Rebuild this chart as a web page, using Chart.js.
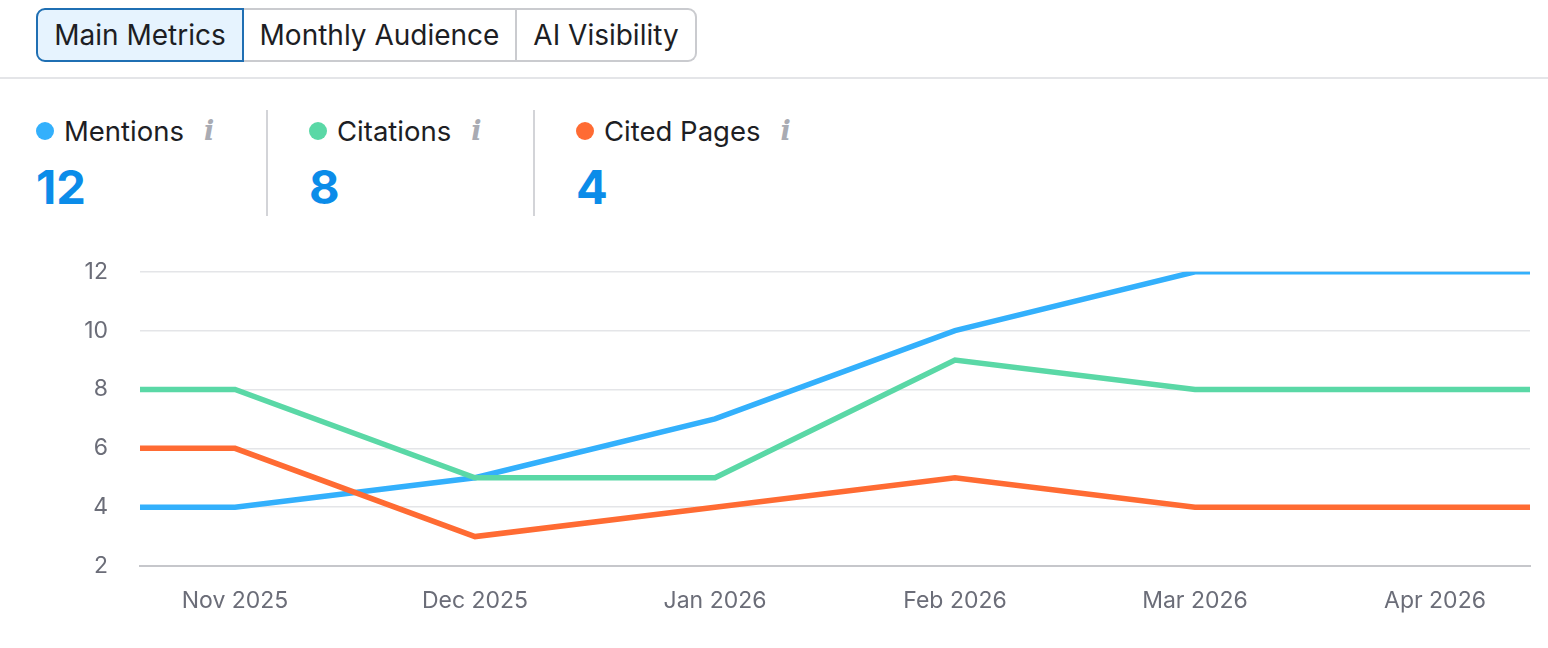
<!DOCTYPE html>
<html>
<head>
<meta charset="utf-8">
<script src="https://cdn.jsdelivr.net/npm/chart.js@4"></script>
<style>
  html, body { margin: 0; padding: 0; background: #fff; }
  body { width: 1548px; height: 648px; position: relative; overflow: hidden; font-family: Inter, "Noto Sans", sans-serif; color: #1d1e24; }
  .tabs { position: absolute; left: 36px; top: 8px; height: 54px; display: flex; }
  .tab { box-sizing: border-box; height: 54px; display: flex; align-items: center; justify-content: center; font-size: 28px; border: 2px solid #cacbcf; border-left-width: 0; background: #fff; }
  .tab.first { border-left-width: 2px; border-radius: 9px 0 0 9px; background: #e6f3fe; border-color: #1f6fb3; width: 208px; }
  .tab.mid { width: 273px; }
  .tab.last { width: 180px; border-radius: 0 9px 9px 0; }
  .sep { position: absolute; left: 0; top: 77px; width: 1548px; height: 2px; background: #e4e5e8; }
  .metric { position: absolute; top: 110px; }
  .metric .lbl { position: absolute; top: 0; white-space: nowrap; font-size: 27.5px; line-height: 42px; display: flex; align-items: center; }
  .dot { display: inline-block; width: 18px; height: 18px; border-radius: 50%; margin-right: 10px; }
  .info { font-family: "DejaVu Serif", serif; font-style: italic; color: #a9abb3; font-size: 27px; margin-left: 20px; font-weight: bold; }
  .num { position: absolute; top: 47px; font-size: 47px; font-weight: 700; color: #0b8ce9; line-height: 60px; }
  .vdiv { position: absolute; top: 110px; width: 2px; height: 106px; background: #d3d4d8; }
  #wrap { position: absolute; left: 0; top: 226px; width: 1548px; height: 414px; }
</style>
</head>
<body>
<div class="tabs">
  <div class="tab first">Main Metrics</div>
  <div class="tab mid">Monthly Audience</div>
  <div class="tab last">AI Visibility</div>
</div>
<div class="sep"></div>

<div class="metric" style="left:36px"><div class="lbl"><span class="dot" style="background:#33b0fc"></span>Mentions<span class="info">i</span></div><div class="num">12</div></div>
<div class="vdiv" style="left:266px"></div>
<div class="metric" style="left:309px"><div class="lbl"><span class="dot" style="background:#5ad8a6"></span>Citations<span class="info">i</span></div><div class="num">8</div></div>
<div class="vdiv" style="left:533px"></div>
<div class="metric" style="left:576px"><div class="lbl"><span class="dot" style="background:#ff6b33"></span>Cited Pages<span class="info">i</span></div><div class="num">4</div></div>

<div id="wrap"><canvas id="chart"></canvas></div>

<script>
  // 月份標籤
  const months = ['Nov 2025', 'Dec 2025', 'Jan 2026', 'Feb 2026', 'Mar 2026', 'Apr 2026'];
  // 三條線的數值
  const mentions = [4, 5, 7, 10, 12, 12];
  const citations = [8, 5, 5, 9, 8, 8];
  const citedPages = [6, 3, 4, 5, 4, 4];
  const yTicks = [2, 4, 6, 8, 10, 12];

  const X_MIN = -0.396, X_MAX = 5.396; // 線延伸到圖表兩側邊緣

  // 把數值轉成 {x, y}，頭尾各補一點讓線拉到邊
  function toPoints(values) {
    const pts = values.map((v, i) => ({ x: i, y: v }));
    pts.unshift({ x: X_MIN, y: values[0] });
    pts.push({ x: X_MAX, y: values[values.length - 1] });
    return pts;
  }

  function line(label, values, color, order) {
    return {
      label: label,
      data: toPoints(values),
      borderColor: color,
      backgroundColor: color,
      borderWidth: 5.5,
      pointRadius: 0,
      tension: 0,
      order: order
    };
  }

  const tickFont = { family: 'Inter', size: 23 };

  new Chart(document.getElementById('chart'), {
    type: 'line',
    data: {
      datasets: [
        line('Mentions', mentions, '#33b0fc', 3),
        line('Citations', citations, '#5ad8a6', 2),
        line('Cited Pages', citedPages, '#ff6b33', 1)
      ]
    },
    options: {
      responsive: true,
      maintainAspectRatio: false,
      animation: false,
      layout: { padding: { top: 0, right: 18, left: 0, bottom: 0 } },
      plugins: { legend: { display: false }, tooltip: { enabled: false } },
      scales: {
        x: {
          type: 'linear',
          min: X_MIN,
          max: X_MAX,
          afterBuildTicks: s => { s.ticks = months.map((m, i) => ({ value: i })); },
          afterFit: s => { s.height = 74; },
          ticks: { callback: v => months[v], color: '#6b6d78', font: tickFont, padding: 21, maxRotation: 0, autoSkip: false },
          grid: { display: false, drawTicks: false },
          border: { display: true, color: '#c6c7cb', width: 2 }
        },
        y: {
          min: 2,
          max: 12,
          afterBuildTicks: s => { s.ticks = yTicks.map(v => ({ value: v })); },
          afterFit: s => { s.width = 140; },
          ticks: { color: '#6b6d78', font: tickFont, padding: 32 },
          grid: { color: '#e4e5e8', lineWidth: 1.5, drawTicks: false },
          border: { display: false }
        }
      }
    }
  });
</script>
</body>
</html>
